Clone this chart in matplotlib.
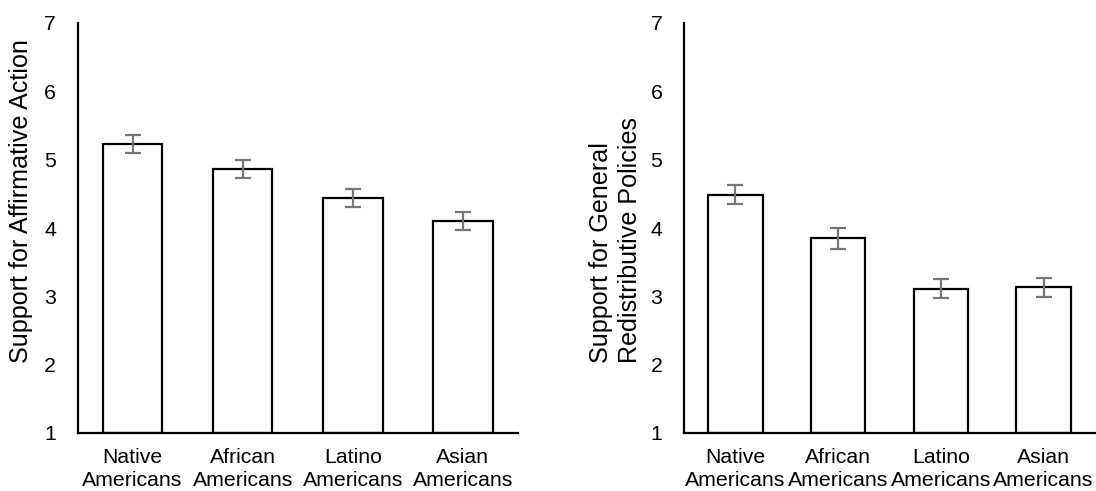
import matplotlib
matplotlib.use("Agg")
import matplotlib.pyplot as plt

plt.rcParams['font.family'] = ['Liberation Sans', 'DejaVu Sans']

categories = ["Native\nAmericans", "African\nAmericans", "Latino\nAmericans", "Asian\nAmericans"]
aa_means = [5.23, 4.86, 4.44, 4.10]
aa_err = [0.127, 0.13, 0.13, 0.13]
rd_means = [4.49, 3.85, 3.11, 3.13]
rd_err = [0.146, 0.15, 0.14, 0.14]
yticks = [1, 2, 3, 4, 5, 6, 7]

W, H = 1096, 491
fig = plt.figure(figsize=(W/100, H/100), dpi=100)
ax1 = fig.add_axes([77.5/W, 1-433/H, 440.5/W, 410/H])
ax2 = fig.add_axes([684/W, 1-433/H, 411/W, 410/H])

def draw(ax, means, errs, width):
    x = list(range(len(categories)))
    heights = [m - 1 for m in means]
    ax.bar(x, heights, bottom=1, width=width, color='white', edgecolor='black',
           linewidth=1.6, zorder=2)
    ax.errorbar(x, means, yerr=errs, fmt='none', ecolor='#767676', elinewidth=1.6,
                capsize=6, capthick=1.6, zorder=3)
    ax.set_xlim(-0.5, 3.5)
    ax.set_ylim(1, 7)
    ax.set_yticks(yticks)
    ax.set_xticks(x)
    ax.set_xticklabels(categories, fontsize=15.3, linespacing=1.22)
    ax.tick_params(axis='y', length=0, pad=15.5, labelsize=15.3)
    ax.tick_params(axis='x', length=0, pad=11)
    for s in ['top', 'right']:
        ax.spines[s].set_visible(False)
    for s in ['left', 'bottom']:
        ax.spines[s].set_linewidth(1.6)
        ax.spines[s].set_color('black')

draw(ax1, aa_means, aa_err, 0.54)
draw(ax2, rd_means, rd_err, 0.53)

fig.text(33/W, 1-363/H, "Support for Affirmative Action", fontsize=18.1,
         rotation=90, rotation_mode='anchor', ha='left', va='bottom')
fig.text(642/W, 1-363/H, "Support for General\nRedistributive Policies", fontsize=18.1,
         rotation=90, rotation_mode='anchor', ha='left', va='bottom',
         multialignment='left', linespacing=1.25)

fig.savefig("out.png", dpi=100)
